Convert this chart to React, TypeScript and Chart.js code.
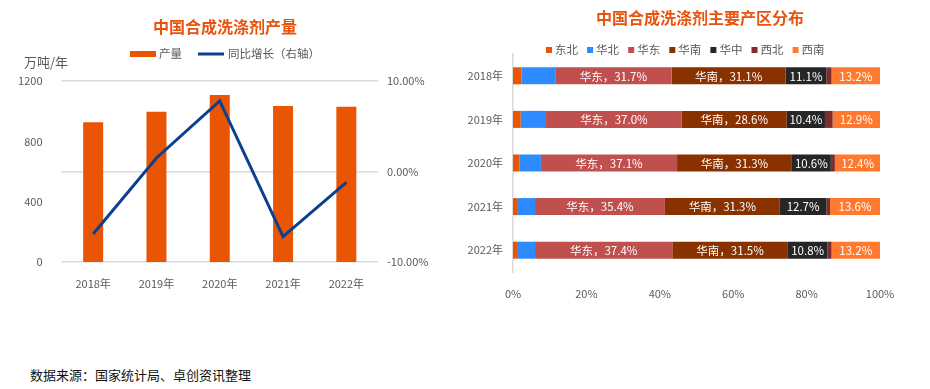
import React, { useEffect, useRef } from "react";
import { Chart, registerables } from "chart.js";
Chart.register(...registerables);

const FONT = "'Noto Sans CJK SC', 'Noto Sans', sans-serif";

// Left chart data
const years = ["2018年", "2019年", "2020年", "2021年", "2022年"];
const outputValues = [926, 996, 1107, 1034, 1030];
const growthValues = [-6.9, 1.5, 7.8, -7.2, -1.2];
const leftTitle = "中国合成洗涤剂产量";
const outputLabel = "产量";
const growthLabel = "同比增长（右轴）";
const unitLabel = "万吨/年";

// Right chart data
const rightTitle = "中国合成洗涤剂主要产区分布";
const regionNames = ["东北", "华北", "华东", "华南", "华中", "西北", "西南"];
const dongbei = [2.3, 2.1, 1.8, 1.1, 1.1];
const huabei = [9.2, 6.9, 5.8, 4.9, 4.9];
const huadong = [31.7, 37.0, 37.1, 35.4, 37.4];
const huanan = [31.1, 28.6, 31.3, 31.3, 31.5];
const huazhong = [11.1, 10.4, 10.6, 12.7, 10.8];
const xibei = [1.4, 2.1, 1.1, 1.0, 1.1];
const xinan = [13.2, 12.9, 12.4, 13.6, 13.2];
const regionValues = [dongbei, huabei, huadong, huanan, huazhong, xibei, xinan];
const regionColors = ["#EA5504", "#2E8BFF", "#C0504D", "#8A3100", "#262626", "#7E2C2C", "#FF7A2F"];
// label mode: 0 none, 1 name + value, 2 value only
const regionLabelMode = [0, 0, 1, 1, 2, 0, 2];

const sourceText = "数据来源：国家统计局、卓创资讯整理";

const BAR_COLOR = "#EA5504";
const LINE_COLOR = "#0C3F8F";
const TICK_COLOR = "#595959";
const TITLE_COLOR = "#E8530E";

const leftHeader = {
  id: "leftHeader",
  afterDraw(chart: any) {
    const ctx = chart.ctx;
    ctx.save();
    ctx.fillStyle = TITLE_COLOR;
    ctx.font = `bold 16px ${FONT}`;
    ctx.textAlign = "center";
    ctx.textBaseline = "middle";
    ctx.fillText(leftTitle, 225, 27);
    // legend
    ctx.font = `11.5px ${FONT}`;
    ctx.textAlign = "left";
    ctx.fillStyle = BAR_COLOR;
    ctx.fillRect(130, 51, 26, 6);
    ctx.fillStyle = TICK_COLOR;
    ctx.fillText(chart.data.datasets[1].label, 159, 54);
    ctx.strokeStyle = LINE_COLOR;
    ctx.lineWidth = 3;
    ctx.beginPath();
    ctx.moveTo(198, 54);
    ctx.lineTo(224, 54);
    ctx.stroke();
    ctx.fillText(chart.data.datasets[0].label, 228, 54);
    // unit
    ctx.font = `13px ${FONT}`;
    ctx.fillText(unitLabel, 24, 62);
    ctx.restore();
  },
};

const rightHeader = {
  id: "rightHeader",
  afterDraw(chart: any) {
    const ctx = chart.ctx;
    ctx.save();
    ctx.fillStyle = TITLE_COLOR;
    ctx.font = `bold 16px ${FONT}`;
    ctx.textAlign = "center";
    ctx.textBaseline = "middle";
    ctx.fillText(rightTitle, 240, 18);
    ctx.font = `11.5px ${FONT}`;
    ctx.textAlign = "left";
    chart.data.datasets.forEach((ds: any, i: number) => {
      const x = 86 + i * 41.1;
      ctx.fillStyle = ds.backgroundColor;
      ctx.fillRect(x, 47, 6, 6);
      ctx.fillStyle = TICK_COLOR;
      ctx.fillText(ds.label, x + 9, 50);
    });
    ctx.restore();
  },
};

const barLabels = {
  id: "barLabels",
  afterDatasetsDraw(chart: any) {
    const ctx = chart.ctx;
    ctx.save();
    ctx.font = `11.5px ${FONT}`;
    ctx.fillStyle = "#FFFFFF";
    ctx.textAlign = "center";
    ctx.textBaseline = "middle";
    chart.data.datasets.forEach((ds: any, di: number) => {
      const mode = regionLabelMode[di];
      if (!mode) return;
      const meta = chart.getDatasetMeta(di);
      meta.data.forEach((el: any, i: number) => {
        const p = el.getProps(["x", "y", "base"], true);
        const v = ds.data[i].toFixed(1) + "%";
        const text = mode === 1 ? `${ds.label}，${v}` : v;
        ctx.fillText(text, (p.x + p.base) / 2, p.y + 0.5);
      });
    });
    ctx.restore();
  },
};

export default function App() {
  const leftRef = useRef<HTMLCanvasElement>(null);
  const rightRef = useRef<HTMLCanvasElement>(null);

  useEffect(() => {
    Chart.defaults.font.family = FONT;
    const tickFont = { size: 11, family: FONT };
    const left = new Chart(leftRef.current!, {
      type: "bar",
      data: {
        labels: years,
        datasets: [
          {
            type: "line",
            label: growthLabel,
            data: growthValues,
            yAxisID: "y1",
            borderColor: LINE_COLOR,
            backgroundColor: LINE_COLOR,
            borderWidth: 3,
            pointRadius: 0,
            tension: 0,
            order: 0,
          } as any,
          {
            type: "bar",
            label: outputLabel,
            data: outputValues,
            yAxisID: "y",
            backgroundColor: BAR_COLOR,
            categoryPercentage: 1,
            barPercentage: 0.316,
            order: 1,
          },
        ],
      },
      options: {
        responsive: false,
        animation: false,
        layout: { padding: { top: 81, left: 0, right: 0, bottom: 0 } },
        plugins: { legend: { display: false }, title: { display: false }, tooltip: { enabled: false } },
        scales: {
          x: {
            grid: { display: false },
            border: { display: false },
            ticks: { color: TICK_COLOR, font: tickFont, padding: 7 },
            afterFit: (s: any) => { s.height = 38; },
          },
          y: {
            position: "left",
            min: 0,
            max: 1200,
            grid: { display: false },
            border: { display: false },
            ticks: { stepSize: 400, color: TICK_COLOR, font: tickFont, padding: 11, callback: (v: any) => String(v) },
            afterFit: (s: any) => { s.width = 61.5; },
          },
          y1: {
            position: "right",
            min: -10,
            max: 10,
            grid: { color: "#D9D9D9", lineWidth: 1.5, drawTicks: false },
            border: { display: false },
            ticks: {
              stepSize: 10,
              color: TICK_COLOR,
              font: tickFont,
              padding: 9,
              callback: (v: any) => Number(v).toFixed(2) + "%",
            },
            afterFit: (s: any) => { s.width = 82; },
          },
        },
      } as any,
      plugins: [leftHeader],
    });

    const right = new Chart(rightRef.current!, {
      type: "bar",
      data: {
        labels: years,
        datasets: regionNames.map((name, i) => ({
          label: name,
          data: regionValues[i],
          backgroundColor: regionColors[i],
          categoryPercentage: 1,
          barPercentage: 0.39,
        })),
      },
      options: {
        indexAxis: "y",
        responsive: false,
        animation: false,
        layout: { padding: { top: 54, left: 0, right: 50, bottom: 0 } },
        plugins: { legend: { display: false }, title: { display: false }, tooltip: { enabled: false } },
        scales: {
          x: {
            stacked: true,
            min: 0,
            max: 100,
            grid: { display: false },
            border: { display: false },
            ticks: { stepSize: 20, color: TICK_COLOR, font: tickFont, padding: 7, callback: (v: any) => v + "%" },
            afterFit: (s: any) => { s.height = 28; },
          },
          y: {
            stacked: true,
            grid: { display: false, drawTicks: false },
            border: { display: true, color: "#D9D9D9", width: 1.5 },
            ticks: { color: TICK_COLOR, font: tickFont, padding: 10 },
            afterFit: (s: any) => { s.width = 53; },
          },
        },
      } as any,
      plugins: [rightHeader, barLabels],
    });

    return () => {
      left.destroy();
      right.destroy();
    };
  }, []);

  return (
    <div style={{ position: "fixed", left: 0, top: 0, width: 930, height: 389, background: "#fff", overflow: "hidden" }}>
      <canvas ref={leftRef} width={460} height={300} style={{ position: "absolute", left: 0, top: 0 }} />
      <canvas ref={rightRef} width={470} height={300} style={{ position: "absolute", left: 460, top: 0 }} />
      <div
        style={{
          position: "absolute",
          left: 30,
          top: 366,
          fontFamily: FONT,
          fontSize: 13,
          lineHeight: "18px",
          color: "#111",
          whiteSpace: "nowrap",
        }}
      >
        {sourceText}
      </div>
    </div>
  );
}
